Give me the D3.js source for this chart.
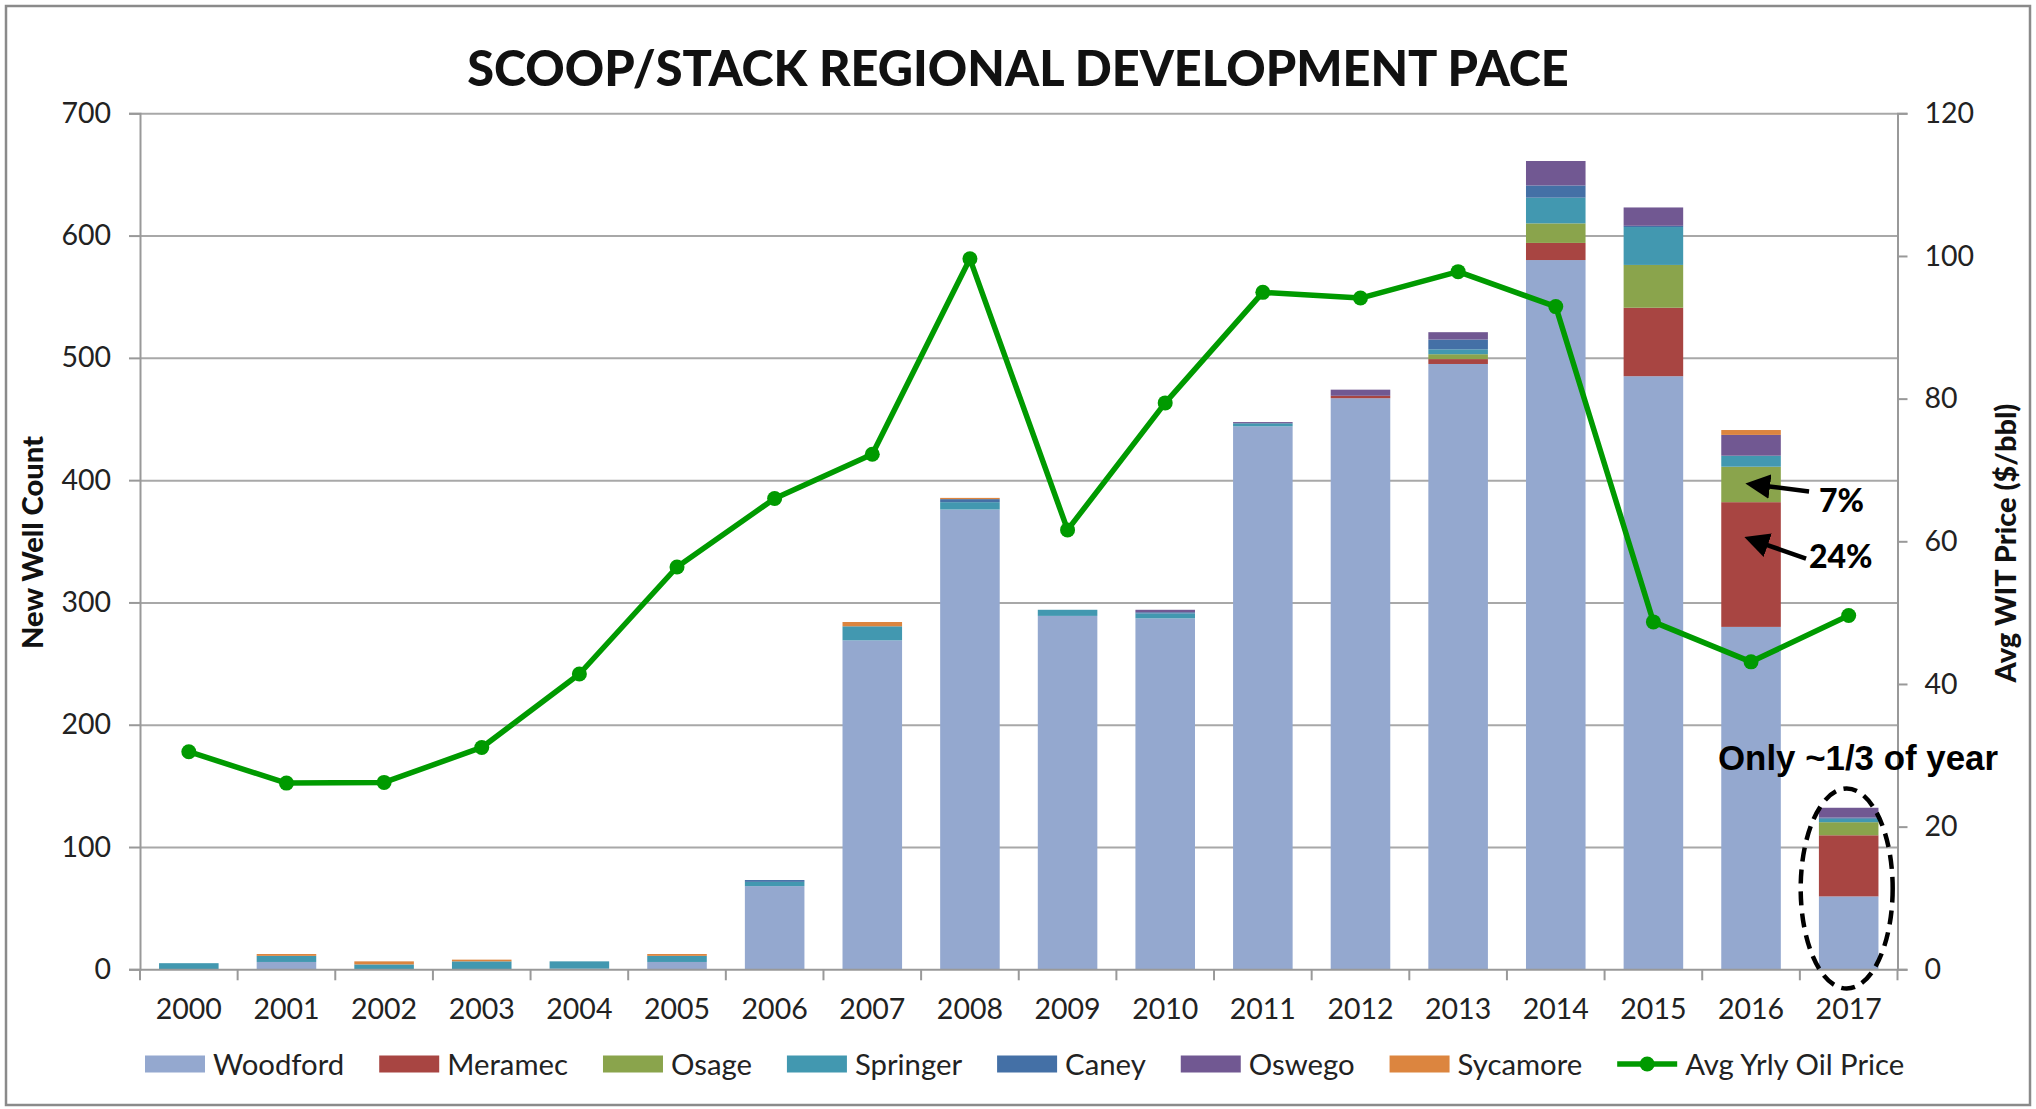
<!DOCTYPE html>
<html>
<head>
<meta charset="utf-8">
<script src="https://cdn.jsdelivr.net/npm/d3@7"></script>
<style>
  html, body { margin: 0; padding: 0; background: #fff; }
  svg { display: block; }
</style>
</head>
<body>
<svg id="chart" width="2036" height="1109"></svg>
<script>
// ---------------- DATA ----------------
const years = ["2000","2001","2002","2003","2004","2005","2006","2007","2008","2009","2010","2011","2012","2013","2014","2015","2016","2017"];
const woodford = [0, 6, 0, 0, 0.5, 6, 68, 269, 376, 289, 287, 444, 467, 495, 580, 485, 280, 59.6];
const meramec  = [0, 0, 0, 0, 0, 0, 0, 0, 0, 0, 0, 0, 2, 4, 14, 56, 102, 50];
const osage    = [0, 0, 0, 0, 0, 0, 0, 0, 0, 0, 0, 0, 0, 4, 16, 35, 29, 10.7];
const springer = [5, 5, 4, 6.5, 6, 5, 3.5, 11.5, 6, 5, 4, 2.5, 0, 4, 21, 31, 9, 2.8];
const caney    = [0, 0, 0, 0, 0, 0, 1.5, 0, 2.5, 0, 1, 0, 0, 8, 10, 1, 0, 1];
const oswego   = [0, 0, 0, 0, 0, 0, 0, 0, 0, 0, 2, 1, 5, 6, 20, 15, 17, 8];
const sycamore = [0, 1.5, 2.5, 1.4, 0, 1.5, 0, 3.5, 1, 0, 0, 0, 0, 0, 0, 0, 4, 0];
const oilPrice = [30.5, 26.1, 26.2, 31.1, 41.4, 56.4, 66.0, 72.2, 99.6, 61.6, 79.4, 94.9, 94.1, 97.8, 92.9, 48.7, 43.1, 49.6];
const seriesNames = ["Woodford","Meramec","Osage","Springer","Caney","Oswego","Sycamore"];
const lineName = "Avg Yrly Oil Price";
const leftTicks = [0,100,200,300,400,500,600,700];
const rightTicks = [0,20,40,60,80,100,120];
const titleText = "SCOOP/STACK REGIONAL DEVELOPMENT PACE";
const leftTitle = "New Well Count";
const rightTitle = "Avg WIT Price ($/bbl)";

// ---------------- STYLE ----------------
const colors = {
  Woodford: "#94a8cf", Meramec: "#a84542", Osage: "#8aa44c", Springer: "#4298b0",
  Caney: "#4470a6", Oswego: "#715892", Sycamore: "#dc853f"
};
const green = "#009a00";
const gridColor = "#a8a8a8";
const FONT = "Lato, 'Open Sans', sans-serif";

const svg = d3.select("#chart");
const W = 2036, H = 1109;
const plot = {left: 140, right: 1897.5, top: 113.3, bottom: 969.3};

const table = years.map((yr, i) => ({
  year: yr, Woodford: woodford[i], Meramec: meramec[i], Osage: osage[i], Springer: springer[i],
  Caney: caney[i], Oswego: oswego[i], Sycamore: sycamore[i], oil: oilPrice[i]
}));

const x = d3.scaleBand().domain(years).range([plot.left, plot.right]).paddingInner(0.39).paddingOuter(0.195);
const y = d3.scaleLinear().domain([0, 700]).range([plot.bottom, plot.top]);
const y2 = d3.scaleLinear().domain([0, 120]).range([plot.bottom, plot.top]);

function fitWidth(sel, target) {
  const w = sel.node().getComputedTextLength();
  const fs = parseFloat(sel.attr("font-size"));
  sel.attr("font-size", fs * target / w);
  return sel;
}

// border
svg.append("rect").attr("x", 6).attr("y", 6).attr("width", W - 12).attr("height", H - 10)
  .attr("fill", "none").attr("stroke", "#8a8a8a").attr("stroke-width", 2.5);

// gridlines
svg.append("g").attr("transform", `translate(${plot.left},0)`)
  .call(d3.axisLeft(y).tickValues(leftTicks.slice(1)).tickSize(-(plot.right - plot.left)).tickFormat(""))
  .call(g => g.select(".domain").remove())
  .call(g => g.selectAll("line").attr("stroke", gridColor).attr("stroke-width", 2));

// stacked bars
const stack = d3.stack().keys(seriesNames)(table);
svg.append("g").selectAll("g").data(stack).join("g")
  .attr("fill", d => colors[d.key])
  .selectAll("rect").data(d => d).join("rect")
  .attr("x", d => x(d.data.year))
  .attr("width", x.bandwidth())
  .attr("y", d => y(d[1]))
  .attr("height", d => Math.max(0, y(d[0]) - y(d[1])));

// left axis
const axL = svg.append("g").attr("transform", `translate(${plot.left},0)`)
  .call(d3.axisLeft(y).tickValues(leftTicks).tickSize(11).tickPadding(18));
axL.select(".domain").attr("stroke", "#999").attr("stroke-width", 2);
axL.selectAll(".tick line").attr("stroke", "#999").attr("stroke-width", 2);
axL.selectAll("text").attr("font-family", FONT).attr("font-size", 28.5).attr("fill", "#222");

// right axis
const axR = svg.append("g").attr("transform", `translate(${plot.right},0)`)
  .call(d3.axisRight(y2).tickValues(rightTicks).tickSize(10).tickPadding(17));
axR.select(".domain").attr("stroke", "#999").attr("stroke-width", 2);
axR.selectAll(".tick line").attr("stroke", "#999").attr("stroke-width", 2);
axR.selectAll("text").attr("font-family", FONT).attr("font-size", 28.5).attr("fill", "#222");

// bottom axis (labels) + boundary ticks
const axB = svg.append("g").attr("transform", `translate(0,${plot.bottom})`)
  .call(d3.axisBottom(x).tickSize(0).tickPadding(29));
axB.select(".domain").attr("stroke", "#999").attr("stroke-width", 2);
axB.selectAll("text").attr("font-family", FONT).attr("font-size", 28.5).attr("fill", "#222");
const bounds = d3.range(years.length + 1).map(i => plot.left + i * x.step());
svg.append("g").selectAll("line").data(bounds).join("line")
  .attr("x1", d => d).attr("x2", d => d)
  .attr("y1", plot.bottom).attr("y2", plot.bottom + 11)
  .attr("stroke", "#999").attr("stroke-width", 2);

// oil price line
const line = d3.line().x(d => x(d.year) + x.bandwidth() / 2).y(d => y2(d.oil));
svg.append("path").datum(table).attr("d", line)
  .attr("fill", "none").attr("stroke", green).attr("stroke-width", 5.5).attr("stroke-linejoin", "round");
svg.append("g").selectAll("circle").data(table).join("circle")
  .attr("cx", d => x(d.year) + x.bandwidth() / 2).attr("cy", d => y2(d.oil))
  .attr("r", 7.5).attr("fill", green);

// title
const t = svg.append("text").attr("x", 1018).attr("y", 86).attr("text-anchor", "middle")
  .attr("font-family", FONT).attr("font-weight", 900).attr("font-size", 50).attr("fill", "#111")
  .text(titleText);
fitWidth(t, 1102);

// axis titles
const lt = svg.append("text").attr("transform", "translate(43,542.5) rotate(-90)")
  .attr("text-anchor", "middle").attr("font-family", FONT).attr("font-weight", 900)
  .attr("font-size", 22).attr("fill", "#111").text(leftTitle);
fitWidth(lt, 213);
const rt = svg.append("text").attr("transform", "translate(2016,543) rotate(-90)")
  .attr("text-anchor", "middle").attr("font-family", FONT).attr("font-weight", 900)
  .attr("font-size", 22).attr("fill", "#111").text(rightTitle);
fitWidth(rt, 279);

// legend
const leg = svg.append("g");
const legY = 1064;
let lx = 145;
const items = seriesNames.concat([lineName]);
items.forEach((name) => {
  const g = leg.append("g");
  if (name === lineName) {
    g.append("line").attr("x1", lx).attr("x2", lx + 60).attr("y1", legY).attr("y2", legY)
      .attr("stroke", green).attr("stroke-width", 5.5);
    g.append("circle").attr("cx", lx + 30).attr("cy", legY).attr("r", 7.5).attr("fill", green);
  } else {
    g.append("rect").attr("x", lx).attr("y", legY - 8.5).attr("width", 60).attr("height", 17)
      .attr("fill", colors[name]);
  }
  const tx = g.append("text").attr("x", lx + 68).attr("y", legY + 10.5)
    .attr("font-family", FONT).attr("font-size", 29.3).attr("fill", "#222").text(name);
  lx += 68 + tx.node().getComputedTextLength() + 35;
});

// annotations
const i16 = years.indexOf("2016");
const c16 = x("2016") + x.bandwidth() / 2;
const osMid = woodford[i16] + meramec[i16] + osage[i16] / 2;
const meMid = woodford[i16] + meramec[i16] * 0.7;
const defs = svg.append("defs");
defs.append("marker").attr("id", "ah").attr("viewBox", "0 0 10 10").attr("refX", 2).attr("refY", 5)
  .attr("markerWidth", 5.5).attr("markerHeight", 5.5).attr("orient", "auto-start-reverse")
  .append("path").attr("d", "M0,0 L10,5 L0,10 z").attr("fill", "#000");

svg.append("line").attr("x1", c16 + 58).attr("y1", y(osMid) + 7).attr("x2", c16 + 14).attr("y2", y(osMid) + 1.5)
  .attr("stroke", "#000").attr("stroke-width", 4.5).attr("marker-end", "url(#ah)");
svg.append("text").attr("x", 1819).attr("y", 512).attr("font-family", FONT).attr("font-weight", 900)
  .attr("font-size", 32).attr("fill", "#000").text("7%");

svg.append("line").attr("x1", c16 + 55).attr("y1", y(meMid) + 19).attr("x2", c16 + 12).attr("y2", y(meMid) + 4)
  .attr("stroke", "#000").attr("stroke-width", 4.5).attr("marker-end", "url(#ah)");
svg.append("text").attr("x", 1809).attr("y", 568).attr("font-family", FONT).attr("font-weight", 900)
  .attr("font-size", 32).attr("fill", "#000").text("24%");

const c17 = x("2017") + x.bandwidth() / 2;
svg.append("ellipse").attr("cx", c17 - 2).attr("cy", y(66)).attr("rx", 46).attr("ry", 100)
  .attr("fill", "none").attr("stroke", "#000").attr("stroke-width", 4.5).attr("stroke-dasharray", "14 8");

const on = svg.append("text").attr("x", 1858).attr("y", 770).attr("text-anchor", "middle")
  .attr("font-family", "'Liberation Sans', Arial, sans-serif").attr("font-weight", 700)
  .attr("font-size", 30).attr("fill", "#000").text("Only ~1/3 of year");
fitWidth(on, 280);
</script>
</body>
</html>
